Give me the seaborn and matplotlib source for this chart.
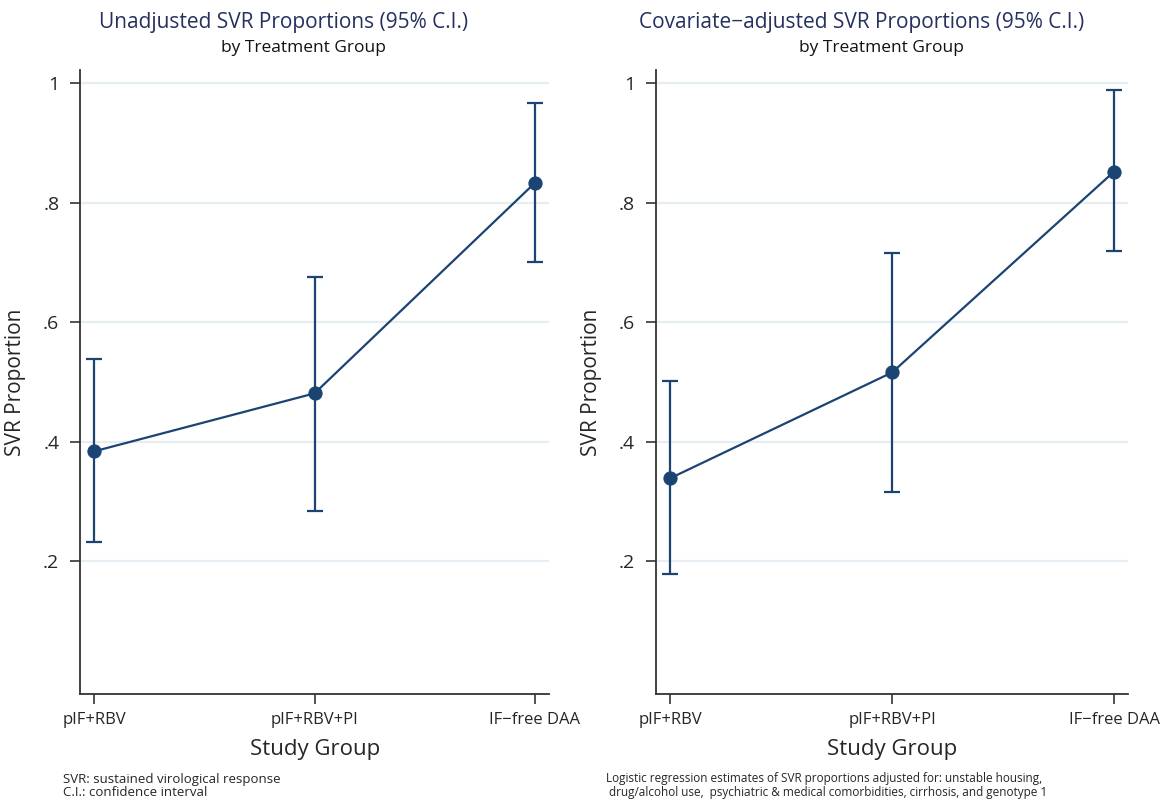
import numpy as np
import pandas as pd
import seaborn as sns
import matplotlib
matplotlib.use('Agg')
import matplotlib.pyplot as plt

# data
groups = ['pIF+RBV', 'pIF+RBV+PI', 'IF\u2212free DAA']

unadj_est = [0.384, 0.481, 0.833]
unadj_lo = [0.232, 0.285, 0.701]
unadj_hi = [0.538, 0.676, 0.967]

adj_est = [0.339, 0.516, 0.852]
adj_lo = [0.179, 0.316, 0.719]
adj_hi = [0.502, 0.716, 0.988]

yticks = [0.2, 0.4, 0.6, 0.8, 1.0]
ytick_labels = ['.2', '.4', '.6', '.8', '1']

titles = ['Unadjusted SVR Proportions (95% C.I.)',
          'Covariate\u2212adjusted SVR Proportions (95% C.I.)']
subtitle = 'by Treatment Group'
notes = ['SVR: sustained virological response\nC.I.: confidence interval',
         'Logistic regression estimates of SVR proportions adjusted for: unstable housing,\n'
         ' drug/alcohol use,  psychiatric & medical comorbidities, cirrhosis, and genotype 1']

sns.set_style('white')
plt.rcParams['font.family'] = ['Open Sans', 'DejaVu Sans']

navy = '#1b4472'
title_col = '#26305f'

fig = plt.figure(figsize=(11.61, 8), dpi=100)
ax1 = fig.add_axes([0.069, 0.1325, 0.404, 0.78])
ax2 = fig.add_axes([0.565, 0.1325, 0.407, 0.78])

panels = [(ax1, unadj_est, unadj_lo, unadj_hi),
          (ax2, adj_est, adj_lo, adj_hi)]

for i, (ax, est, lo, hi) in enumerate(panels):
    df = pd.DataFrame({'pos': np.arange(len(groups)), 'est': est,
                       'lo': lo, 'hi': hi})
    for y in yticks:
        ax.axhline(y, color='#e6eef3', lw=1.6, zorder=0)
    ax.errorbar(df['pos'], df['est'],
                yerr=[df['est'] - df['lo'], df['hi'] - df['est']],
                fmt='none', ecolor=navy, elinewidth=1.6, capsize=6,
                capthick=1.6, zorder=2)
    sns.lineplot(data=df, x='pos', y='est', ax=ax, color=navy, lw=1.6,
                 marker='o', markersize=9.5, markeredgecolor=navy, zorder=3)
    ax.set_xlim(-0.064, 2.065)
    ax.set_ylim(-0.022, 1.022)
    ax.set_xticks(df['pos'])
    ax.set_xticklabels(groups, fontsize=12)
    ax.set_yticks(yticks)
    ax.set_yticklabels(ytick_labels, fontsize=14)
    ax.tick_params(axis='both', direction='out', length=7, width=1.2,
                   color='#333333', left=True, bottom=True)
    ax.tick_params(axis='y', pad=8)
    ax.tick_params(axis='x', pad=6)
    for s in ['top', 'right']:
        ax.spines[s].set_visible(False)
    for s in ['left', 'bottom']:
        ax.spines[s].set_color('#333333')
        ax.spines[s].set_linewidth(1.3)
    ax.set_xlabel('Study Group', fontsize=16, labelpad=8)
    ax.set_ylabel('SVR Proportion', fontsize=15, labelpad=12)

fig.text(0.244, 0.972, titles[0], ha='center', va='center', fontsize=15,
         color=title_col)
fig.text(0.261, 0.94, subtitle, ha='center', va='center', fontsize=12.5,
         color='#111111')
fig.text(0.742, 0.972, titles[1], ha='center', va='center', fontsize=15,
         color=title_col)
fig.text(0.759, 0.94, subtitle, ha='center', va='center', fontsize=12.5,
         color='#111111')

fig.text(0.054, 0.001, notes[0], ha='left', va='bottom', fontsize=9.5,
         linespacing=1.0)
fig.text(0.522, 0.001, notes[1], ha='left', va='bottom', fontsize=8.5,
         linespacing=1.1)

fig.savefig('out.png', dpi=100)
